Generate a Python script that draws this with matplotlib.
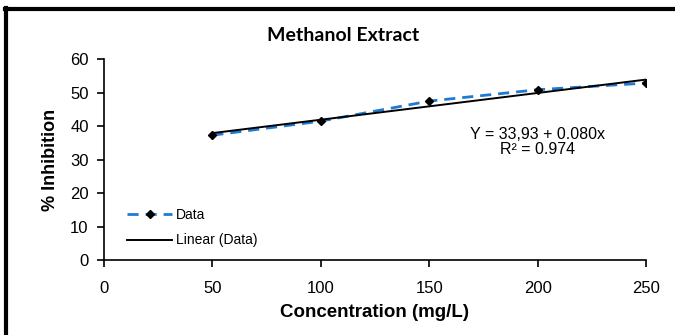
import numpy as np
import matplotlib.pyplot as plt
from matplotlib.lines import Line2D

conc = [50, 100, 150, 200, 250]
inhibition = [37.3, 41.5, 47.5, 50.9, 52.9]
intercept = 33.93
slope = 0.080
r2 = 0.974

plt.rcParams['font.family'] = ['Liberation Sans', 'DejaVu Sans']

fig = plt.figure(figsize=(6.75, 3.35), dpi=100)
ax = fig.add_axes([0.154, 0.224, 0.803, 0.599])

ax.plot(conc, inhibition, '--', color='#1f7ad1', lw=2, dashes=(4, 2.5),
        marker='D', ms=4.5, mfc='black', mec='black', label='Data')
xfit = np.array([conc[0], conc[-1]])
ax.plot(xfit, intercept + slope * xfit, '-', color='black', lw=1.4, label='Linear (Data)')

ax.set_xlim(0, 250)
ax.set_ylim(0, 60)
ax.set_xticks(np.arange(0, 251, 50))
ax.set_yticks(np.arange(0, 61, 10))
for s in ['top', 'right']:
    ax.spines[s].set_visible(False)
for s in ['left', 'bottom']:
    ax.spines[s].set_linewidth(1.2)
ax.tick_params(direction='out', length=5, width=1.2, labelsize=12, colors='black', pad=6)
ax.tick_params(axis='x', pad=10)

ax.set_xlabel('Concentration (mg/L)', fontsize=13.5, fontweight='bold', labelpad=6)
ax.set_ylabel('% Inhibition', fontsize=13, fontweight='bold', labelpad=8)

ax.text(0.8, 0.59, f'Y = 33,93 + 0.080x\nR² = {r2}', transform=ax.transAxes,
        ha='center', va='center', fontsize=11.5, linespacing=1.0)

ax.legend(loc='lower left', bbox_to_anchor=(0.02, 0.0), frameon=False, fontsize=10,
          handlelength=3.2, handletextpad=0.3, labelspacing=0.85)

fig.text(0.508, 0.895, 'Methanol Extract', ha='center', va='center',
         fontsize=14, fontweight='bold', family=['Lato', 'DejaVu Sans'])

# frame around the figure (only left and top visible)
fig.add_artist(Line2D([6/675, 6/675], [0, 1 - 8/335], color='black', lw=3))
fig.add_artist(Line2D([5/675, 1], [1 - 9/335, 1 - 9/335], color='black', lw=3))

fig.savefig('out.png', dpi=100)
